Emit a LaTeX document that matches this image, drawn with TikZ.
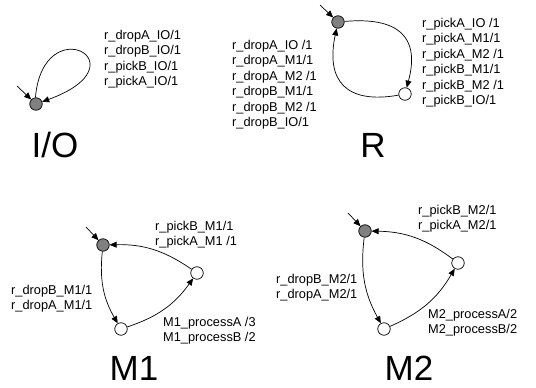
\documentclass[tikz,border=0pt]{standalone}
\usepackage{fontspec}
\setmainfont{Liberation Sans}
\usetikzlibrary{arrows.meta}
\begin{document}
\begin{tikzpicture}[x=1pt,y=1pt,
  st/.style={circle,draw,line width=0.7pt,minimum size=12.5pt,inner sep=0pt},
  ini/.style={st,fill=gray},
  plain/.style={st,fill=white},
  edge/.style={line width=0.7pt,-{Triangle[length=7pt,width=6pt]}},
  lbl/.style={anchor=north west,inner sep=0pt,align=left,font=\fontsize{12.8}{15.5}\selectfont},
  big/.style={anchor=base,inner sep=0pt,font=\fontsize{35}{35}\selectfont}]
\useasboundingbox (0,0) rectangle (536,-388);
% I/O
\node[ini] (io) at (36,-104) {};
\coordinate (ioi) at (17,-86);
\draw[edge] (ioi) -- (io);
\draw[edge] (io.95) .. controls +(85:90) and +(20:110) .. (io.20);
\node[lbl] (iol) at (104,-30) {r\_dropA\_IO/1\\r\_dropB\_IO/1\\r\_pickB\_IO/1\\r\_pickA\_IO/1};
\node[big] (ion) at (55,-157) {I/O};
% R
\node[ini] (rg) at (338,-22) {};
\node[plain] (rw) at (405,-94) {};
\coordinate (rgi) at (320,-5);
\draw[edge] (rgi) -- (rg);
\draw[edge] (rg) to[out=5,in=75,looseness=1.5] (rw);
\draw[edge] (rw) to[out=190,in=258,looseness=1.5] (rg);
\node[lbl] (rll) at (232,-40) {r\_dropA\_IO /1\\r\_dropA\_M1/1\\r\_dropA\_M2 /1\\r\_dropB\_M1/1\\r\_dropB\_M2 /1\\r\_dropB\_IO/1};
\node[lbl] (rrl) at (422,-18) {r\_pickA\_IO /1\\r\_pickA\_M1/1\\r\_pickA\_M2 /1\\r\_pickB\_M1/1\\r\_pickB\_M2 /1\\r\_pickB\_IO/1};
\node[big] (rn) at (373,-157) {R};
% M1
\node[ini] (g1) at (103,-245) {};
\node[plain] (r1) at (197,-273) {};
\node[plain] (b1) at (121,-329) {};
\coordinate (g1i) at (86,-227);
\draw[edge] (g1i) -- (g1);
\draw[edge] (g1) to[bend right=18] (b1);
\draw[edge] (b1) to[bend right=18] (r1);
\draw[edge] (r1) to[bend right=18] (g1);
\node[lbl] (m1p) at (155,-221) {r\_pickB\_M1/1\\r\_pickA\_M1 /1};
\node[lbl] (m1d) at (11,-285) {r\_dropB\_M1/1\\r\_dropA\_M1/1};
\node[lbl] (m1q) at (163,-317) {M1\_processA /3\\M1\_processB /2};
\node[big] (m1n) at (134,-380) {M1};
% M2
\node[ini] (g2) at (365,-231) {};
\node[plain] (r2) at (458,-263) {};
\node[plain] (b2) at (384,-329) {};
\coordinate (g2i) at (348,-213);
\draw[edge] (g2i) -- (g2);
\draw[edge] (g2) to[bend right=18] (b2);
\draw[edge] (b2) to[bend right=18] (r2);
\draw[edge] (r2) to[bend right=18] (g2);
\node[lbl] (m2p) at (418,-205) {r\_pickB\_M2/1\\r\_pickA\_M2/1};
\node[lbl] (m2d) at (276,-274) {r\_dropB\_M2/1\\r\_dropA\_M2/1};
\node[lbl] (m2q) at (428,-309) {M2\_processA/2\\M2\_processB/2};
\node[big] (m2n) at (409,-380) {M2};
\end{tikzpicture}
\end{document}
